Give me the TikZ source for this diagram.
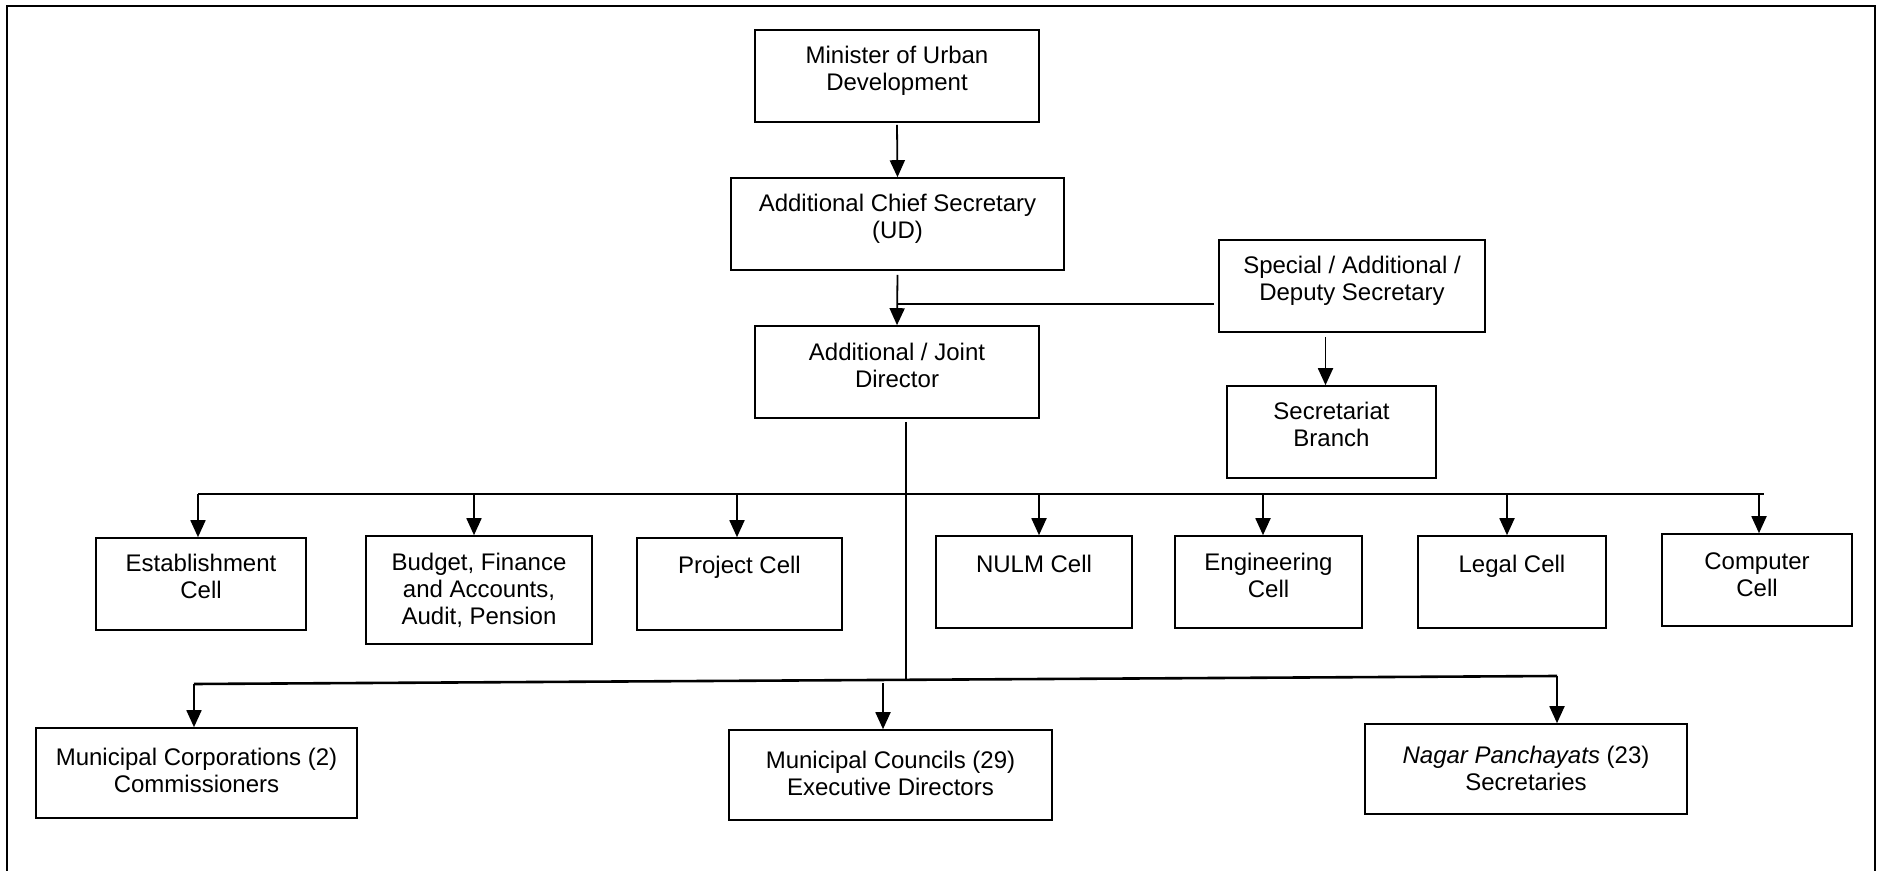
\documentclass[tikz,border=0pt]{standalone}
\usepackage{fontspec}
\setmainfont{Liberation Sans}
\usetikzlibrary{arrows.meta,fit}

% box: name, left, top, right, bottom, text offset, text
\newcommand\orgbox[7]{%
  \node[box, fit={(#2,#3) (#4,#5)}] (#1) {};
  \node[lbl] (#1-t) at ([yshift=-#6]#1.north) {#7};
}

\begin{document}
\begin{tikzpicture}[x=0.5pt, y=-0.5pt,
  box/.style={draw, line width=0.8pt, inner sep=0pt},
  lbl/.style={anchor=north, inner sep=0pt, align=center,
    font=\fontsize{12pt}{13.5pt}\selectfont, execute at begin node=\strut},
  conn/.style={line width=0.9pt},
  bus/.style={line width=1.3pt},
  arr/.style={conn, -{Triangle[length=8.5pt,width=7.5pt]}}]

\useasboundingbox (0,0) rectangle (1881,871);

% outer frame
\draw[line width=1.2pt] (7,871) -- (7,6) -- (1875,6) -- (1875,871);

% boxes
\orgbox{min}{755}{30}{1039}{122}{8.45pt}{Minister of Urban\\Development}
\orgbox{acs}{731}{178}{1064}{270}{8.45pt}{Additional Chief Secretary\\(UD)}
\orgbox{spl}{1219}{240}{1485}{332}{8.45pt}{Special / Additional /\\Deputy Secretary}
\orgbox{ajd}{755}{326}{1039}{418}{8.95pt}{Additional / Joint\\Director}
\orgbox{sec}{1227}{386}{1436}{478}{8.45pt}{Secretariat\\Branch}

\orgbox{est}{96}{538}{306}{630}{8.45pt}{Establishment\\Cell}
\orgbox{bud}{366}{536}{592}{644}{8.95pt}{Budget, Finance\\and Accounts,\\Audit, Pension}
\orgbox{prj}{637}{538}{842}{630}{8.45pt}{Project Cell}
\orgbox{nulm}{936}{536}{1132}{628}{8.95pt}{NULM Cell}
\orgbox{eng}{1175}{536}{1362}{628}{8.95pt}{Engineering\\Cell}
\orgbox{leg}{1418}{536}{1606}{628}{8.95pt}{Legal Cell}
\orgbox{cmp}{1662}{534}{1852}{626}{9.7pt}{Computer\\Cell}

\orgbox{mc}{36}{728}{357}{818}{10.45pt}{Municipal Corporations (2)\\Commissioners}
\orgbox{cnc}{729}{730}{1052}{820}{10.95pt}{Municipal Councils (29)\\Executive Directors}
\orgbox{np}{1365}{724}{1687}{814}{11.45pt}{\textit{Nagar Panchayats} (23)\\Secretaries}

% top chain
\draw[arr] ([yshift=-1pt]min.south) -- (acs.north);
\draw[arr] ([yshift=-2pt]acs.south) -- (ajd.north);
\coordinate (j1) at (897,304);
\draw[conn] ([xshift=-2pt]spl.west |- j1) -- (j1);
\draw[arr] ([xshift=-3pt,yshift=-2pt]sec.north |- spl.south) -- ([xshift=-3pt]sec.north);

% trunk from the director
\coordinate (lbM) at (906,680);
\draw[conn] ([xshift=4.5pt,yshift=-1.5pt]ajd.south) -- (lbM);

% cells bus
\coordinate (ubL) at (198,494);
\coordinate (ubR) at (1764,494);
\draw[bus] (ubL) -- (ubR);
\foreach \b/\dx in {est/-1.5pt,bud/-2.5pt,prj/-1.25pt,nulm/2.5pt,eng/-2.75pt,leg/-2.5pt,cmp/1pt}
  \draw[arr] ([xshift=\dx]\b.north |- ubL) -- ([xshift=\dx]\b.north);

% local bodies bus
\coordinate (lbL) at (194,684);
\coordinate (lbR) at (1557,676);
\coordinate (lbC) at (883,683);
\draw[bus] (lbL) -- (lbR);
\draw[arr] (lbL) -- (lbL |- mc.north);
\draw[arr] (lbC) -- (lbC |- cnc.north);
\draw[arr] (lbR) -- (lbR |- np.north);

\end{tikzpicture}
\end{document}
